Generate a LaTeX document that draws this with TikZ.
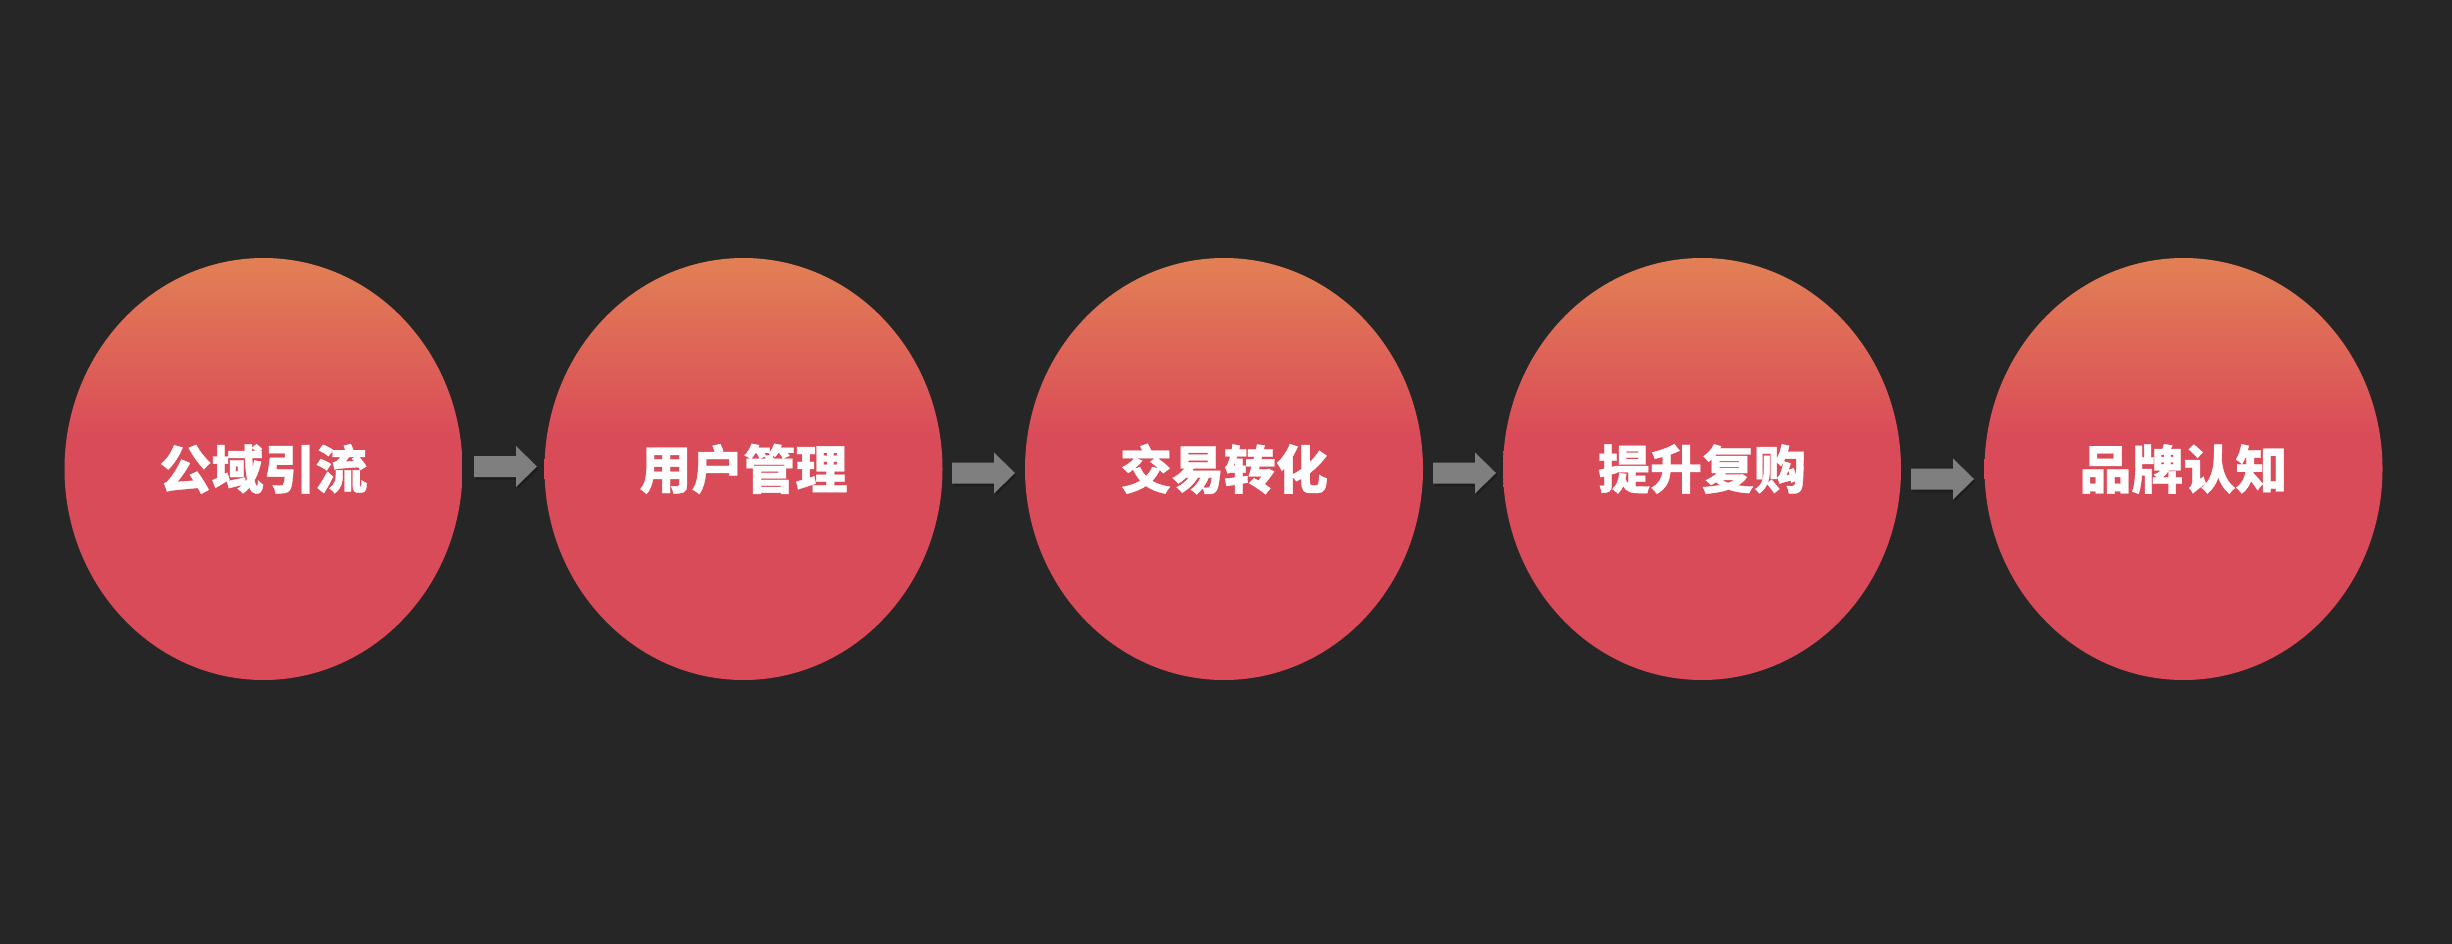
\documentclass[tikz,border=0pt]{standalone}
\usepackage{fontspec}
\newfontfamily\cjk[BoldFeatures={FakeBold=0.7}]{Noto Sans CJK SC}
\usetikzlibrary{shapes.geometric}
\definecolor{bgc}{RGB}{38,38,38}
\definecolor{corange}{RGB}{226,128,85}
\definecolor{cred}{RGB}{218,75,89}
\definecolor{arrc}{RGB}{127,127,127}
\definecolor{shadc}{RGB}{24,24,24}
\pgfdeclareverticalshading{circgrad}{100bp}{color(0bp)=(cred); color(54bp)=(cred); color(75bp)=(corange); color(100bp)=(corange)}
\tikzset{
  stage/.style={ellipse, minimum width=398pt, minimum height=422pt, inner sep=0pt, outer sep=0pt,
    shading=circgrad, text=white, font=\cjk\bfseries\fontsize{52}{60}\selectfont},
  blockarr/.style={fill=arrc, draw=none},
  blockshadow/.style={fill=shadc, draw=none, opacity=0.6}
}
\begin{document}
\begin{tikzpicture}[x=1pt,y=-1pt]
\useasboundingbox (0,0) rectangle (2452,944);
\fill[bgc] (0,0) rectangle (2452,944);
\node[stage] (c1) at (263.5,469) {公域引流};
\node[stage] (c2) at (743.5,469) {用户管理};
\node[stage] (c3) at (1224,469) {交易转化};
\node[stage] (c4) at (1702,469) {提升复购};
\node[stage] (c5) at (2183.5,469) {品牌认知};
\coordinate (a1) at (474,466.5);
\coordinate (a2) at (952,473);
\coordinate (a3) at (1433,473);
\coordinate (a4) at (1911,479);
\foreach \a in {a1,a2,a3,a4}{
  \begin{scope}[shift={(\a)}]
    \fill[blockshadow] (1.5,-9) -- (43.5,-9) -- (43.5,-19) -- (64.5,2) -- (43.5,23) -- (43.5,13) -- (1.5,13) -- cycle;
    \fill[blockarr] (0,-10.5) -- (42,-10.5) -- (42,-20.5) -- (63,0) -- (42,20.5) -- (42,10.5) -- (0,10.5) -- cycle;
  \end{scope}
}
\end{tikzpicture}
\end{document}
